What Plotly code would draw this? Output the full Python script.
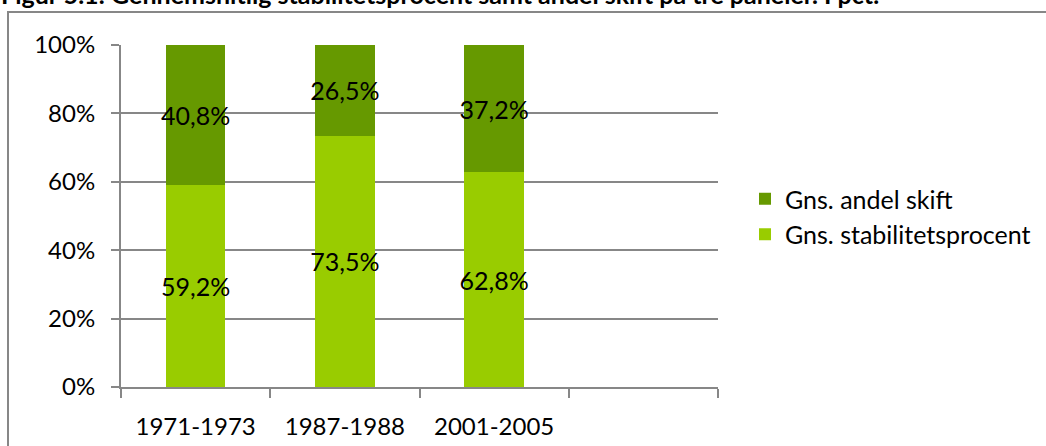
import plotly.graph_objects as go

categories = ["1971-1973", "1987-1988", "2001-2005", " "]
stabilitet = [59.2, 73.5, 62.8]
andel_skift = [40.8, 26.5, 37.2]
stab_labels = ["59,2%", "73,5%", "62,8%"]
skift_labels = ["40,8%", "26,5%", "37,2%"]
y_ticks = [0, 20, 40, 60, 80, 100]
y_ticktext = ["0%", "20%", "40%", "60%", "80%", "100%"]
title_text = "Figur 5.1: Gennemsnitlig stabilitetsprocent samt andel skift på tre paneler. I pct."

FONT = "Lato, 'Open Sans', sans-serif"
GRID = "#878787"

# plot area in window pixels (page body margin is removed via post_script)
PL, PR, PT, PB = 121, 718, 45, 387
L, T = PL, PT
R = 1046 - PR
B = 446 - PB
W = PR - PL
H = PB - PT

def px_x(p):  # window px -> paper x
    return (p - PL) / W

def px_y(p):  # window px -> paper y
    return (PB - p) / H

fig = go.Figure()
fig.add_trace(go.Bar(
    x=categories[:3], y=stabilitet, name="Gns. stabilitetsprocent",
    marker=dict(color="#99cc00", line=dict(width=0)),
    text=stab_labels, textposition="inside", textangle=0,
    insidetextanchor="middle", constraintext="none",
    textfont=dict(family=FONT, size=25, color="#000000"),
    width=0.4,
))
fig.add_trace(go.Bar(
    x=categories[:3], y=andel_skift, name="Gns. andel skift",
    marker=dict(color="#669900", line=dict(width=0)),
    text=skift_labels, textposition="inside", textangle=0,
    insidetextanchor="middle", constraintext="none",
    textfont=dict(family=FONT, size=25, color="#000000"),
    width=0.4,
))

fig.update_layout(
    width=1046, height=446,
    margin=dict(l=L, r=R, t=T, b=B, pad=0, autoexpand=False),
    paper_bgcolor="white", plot_bgcolor="white",
    barmode="stack", bargap=0.6,
    uniformtext=dict(mode=False),
    font=dict(family=FONT, size=24, color="#000000"),
    showlegend=True,
    legend=dict(
        x=px_x(745), y=px_y(176), xanchor="left", yanchor="top",
        traceorder="reversed", font=dict(family=FONT, size=25, color="#000000"),
        bgcolor="rgba(0,0,0,0)", itemsizing="constant", tracegroupgap=0,
    ),
    xaxis=dict(
        type="category", categoryorder="array", categoryarray=categories,
        range=[-0.5, 3.5], tickson="boundaries", ticks="outside", ticklen=9,
        tickcolor=GRID, tickwidth=2, showline=True, linecolor=GRID, linewidth=2,
        showgrid=False, tickfont=dict(family=FONT, size=24, color="#000000"),
        ticklabelstandoff=17, fixedrange=True, automargin=False,
    ),
    yaxis=dict(
        range=[0, 100], tickvals=y_ticks, ticktext=y_ticktext,
        ticks="outside", ticklen=8, tickcolor=GRID, tickwidth=2,
        showline=True, linecolor=GRID, linewidth=2,
        showgrid=True, gridcolor=GRID, gridwidth=2, zeroline=False,
        tickfont=dict(family=FONT, size=24, color="#000000"),
        ticklabelstandoff=11, fixedrange=True, automargin=False,
    ),
)

# Chart border (outer frame)
fig.add_shape(type="rect", xref="paper", yref="paper",
              x0=px_x(8), x1=px_x(1090), y0=px_y(500), y1=px_y(12),
              line=dict(color=GRID, width=2), fillcolor="rgba(0,0,0,0)", layer="below")

# Title (partly cut off at the top)
fig.add_annotation(text="<b>" + title_text + "</b>", xref="paper", yref="paper",
                   x=px_x(-1), y=px_y(11), xanchor="left", yanchor="bottom",
                   showarrow=False, font=dict(family=FONT, size=25, color="#000000"))

fig.write_html("out.html", config={"displayModeBar": False},
               post_script="document.body.style.margin='0';")
